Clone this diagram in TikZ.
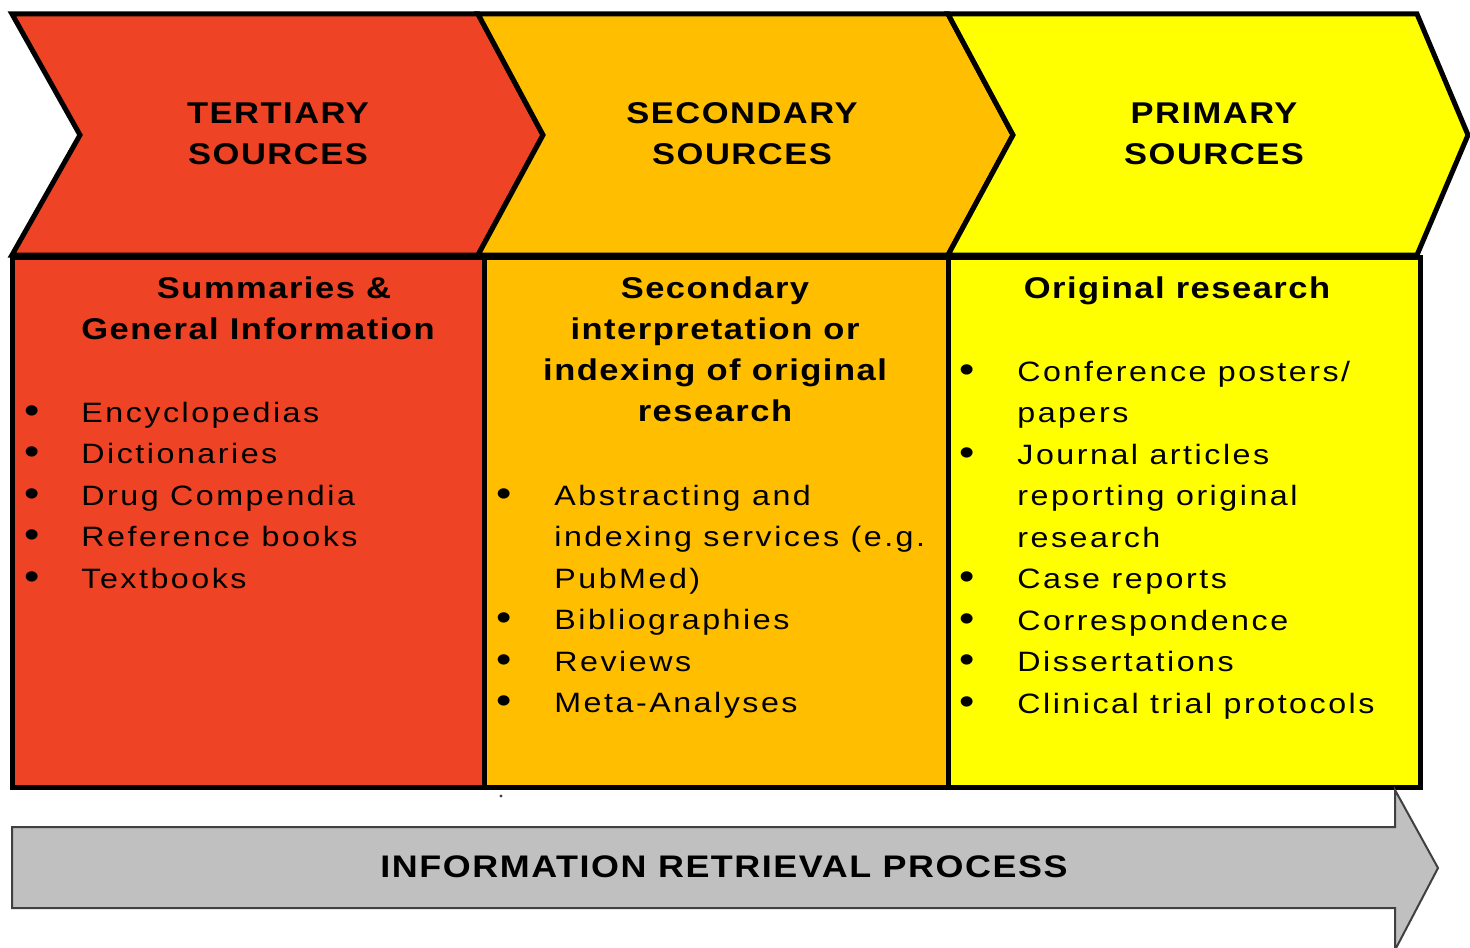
\documentclass[tikz,border=0pt]{standalone}
\usepackage{fontspec}
\setmainfont{Liberation Sans}[FakeStretch=1.15, LetterSpace=9, BoldFeatures={LetterSpace=5}]
\usepackage{array}
\definecolor{tertcol}{RGB}{238,67,36}
\definecolor{seccol}{RGB}{255,191,0}
\definecolor{primcol}{RGB}{255,255,0}
\definecolor{flowcol}{RGB}{192,192,192}
\definecolor{flowedge}{RGB}{64,64,64}
\newcommand{\bodyfont}{\fontsize{14}{20.75}\selectfont}
\newcommand{\headfont}{\fontsize{15}{20.6}\selectfont\bfseries}
\newcommand{\itm}{\raisebox{-0.5pt}{\fontsize{19}{19}\selectfont\textbullet} &}
\tikzset{
  panel/.style={draw=black, line width=2.5pt, line join=miter},
  head/.style={inner sep=0pt, anchor=base, font=\headfont},
  itemlist/.style={inner sep=0pt, anchor=base west, font=\bodyfont},
  flow/.style={draw=flowedge, line width=1pt, fill=flowcol}
}
\begin{document}
\begin{tikzpicture}[x=0.5pt, y=-0.5pt]
\useasboundingbox (0,0) rectangle (1470,947);
\begin{scope}
\clip (0,0) rectangle (1470,947);

% chevrons
\path[panel, fill=tertcol] (12,14) -- (478,14) -- (543,135) -- (478,255) -- (12,255) -- (80,135) -- cycle;
\path[panel, fill=seccol] (478,14) -- (948,14) -- (1013,135) -- (948,255) -- (478,255) -- (543,135) -- cycle;
\path[panel, fill=primcol] (948,14) -- (1417,14) -- (1468,135) -- (1417,255) -- (948,255) -- (1013,135) -- cycle;

% columns
\path[panel, fill=tertcol] (12,257) rectangle (484,787);
\path[panel, fill=seccol] (484,257) rectangle (948,787);
\path[panel, fill=primcol] (948,257) rectangle (1420,787);

% process arrow
\path[flow] (12,827) -- (1395,827) -- (1395,790) -- (1438,868) -- (1395,950) -- (1395,908) -- (12,908) -- cycle;
\fill[flowedge] (501,796) circle (1.6);
\end{scope}

% chevron titles
\node[head] (tert) at (278,123) {\begin{tabular}[t]{@{}c@{}}TERTIARY\\SOURCES\end{tabular}};
\node[head] (sec) at (742,123) {\begin{tabular}[t]{@{}c@{}}SECONDARY\\SOURCES\end{tabular}};
\node[head] (prim) at (1214,123) {\begin{tabular}[t]{@{}c@{}}PRIMARY\\SOURCES\end{tabular}};

% column headings
\node[head] (terthd) at (258,298) {\begin{tabular}[t]{@{}c@{}}\hspace*{16pt}Summaries \&\\General Information\end{tabular}};
\node[head] (sechd) at (715,298) {\begin{tabular}[t]{@{}c@{}}Secondary\\interpretation or\\indexing of original\\research\end{tabular}};
\node[head] (primhd) at (1177,298) {Original research};

% item lists
\node[itemlist] (tertlist) at (24,422) {\begin{tabular}[t]{@{}p{28.5pt}@{}l@{}}
\itm Encyclopedias\\
\itm Dictionaries\\
\itm Drug Compendia\\
\itm Reference books\\
\itm Textbooks
\end{tabular}};

\node[itemlist] (seclist) at (496,505) {\begin{tabular}[t]{@{}p{29pt}@{}l@{}}
\itm Abstracting and\\
& indexing services (e.g.\\
& PubMed)\\
\itm Bibliographies\\
\itm Reviews\\
\itm Meta-Analyses
\end{tabular}};

\node[itemlist] (primlist) at (959,381) {\begin{tabular}[t]{@{}p{29pt}@{}l@{}}
\itm Conference posters/\\
& papers\\
\itm Journal articles\\
& reporting original\\
& research\\
\itm Case reports\\
\itm Correspondence\\
\itm Dissertations\\
\itm Clinical trial protocols
\end{tabular}};

% process label
\node[head, font=\fontsize{15.6}{20}\selectfont\bfseries] (flowlbl) at (724,877) {INFORMATION RETRIEVAL PROCESS};
\end{tikzpicture}
\end{document}
